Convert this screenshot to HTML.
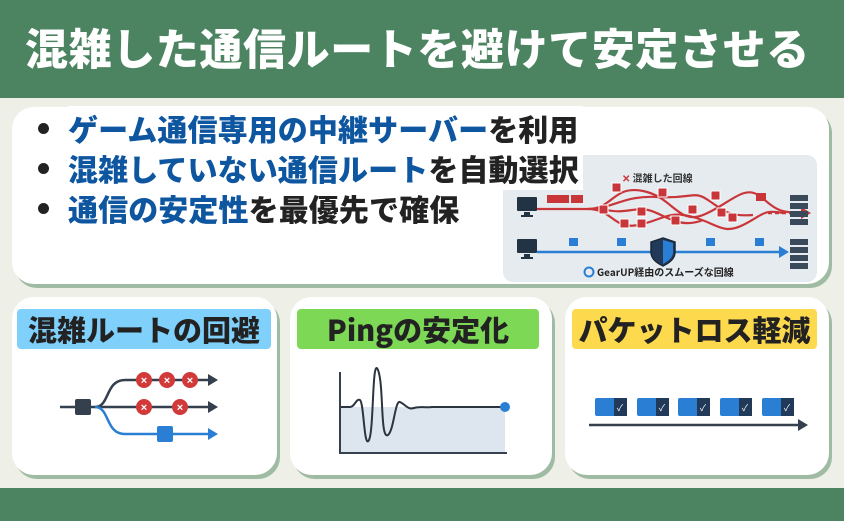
<!DOCTYPE html>
<html><head><meta charset="utf-8"><style>
*{margin:0;padding:0;box-sizing:border-box}
body{width:844px;height:521px;background:#eef0e8;position:relative;overflow:hidden;font-family:"Liberation Sans","Noto Sans CJK JP",sans-serif}
.hdr{position:absolute;left:0;top:0;width:844px;height:98px;background:#4c8461;color:#fff;font-weight:900;font-size:43px;line-height:94px;padding-left:25px;letter-spacing:0.6px;font-family:"Noto Sans CJK JP",sans-serif;white-space:nowrap}
.ftr{position:absolute;left:0;top:488px;width:844px;height:33px;background:#4c8461}
.card{position:absolute;background:#fff;border-radius:22px;box-shadow:3px 4px 0 #9fbba4}
.bl{position:absolute;left:38px;font-size:30px;font-weight:900;font-family:"Noto Sans CJK JP",sans-serif;color:#222;white-space:nowrap;letter-spacing:0.1px}
.bl b{color:#0e56a0;font-weight:900}
.bl i{position:absolute;left:0;top:17px;width:11px;height:11px;border-radius:50%;background:#222}
.bl span{margin-left:30px;background:#fff;padding-right:4px}
.tag{position:absolute;height:40px;line-height:40px;font-size:29px;font-weight:900;font-family:"Noto Sans CJK JP",sans-serif;color:#222;text-align:center;border-radius:4px;white-space:nowrap;letter-spacing:0px}
</style></head><body>
<div class="hdr">混雑した通信ルートを避けて安定させる</div>
<div class="card" style="left:12px;top:107px;width:817px;height:177px"></div>
<svg style="position:absolute;left:503px;top:155px" width="314" height="127">
<rect x="0" y="0" width="314" height="127" rx="10" fill="#e6ebf0"/>
<text x="119" y="27" font-size="10" font-weight="bold" fill="#333" font-family="Noto Sans CJK JP,sans-serif"><tspan fill="#c9363a">✕</tspan> 混雑した回線</text>
<g fill="none" stroke="#c9363a" stroke-width="2.2">
<path d="M30 54 H85 C110 54 110 30 140 36 S175 70 200 60 S240 30 255 40 S270 58 300 58"/>
<path d="M85 54 C110 54 110 75 135 70 S165 55 190 62 S220 80 240 70 S260 54 280 58"/>
<path d="M85 54 C110 54 120 40 155 42 S190 35 205 45 S225 62 250 60"/>
<path d="M100 54 C120 60 130 52 145 55 S175 75 200 65"/>
</g>
<path d="M265 58 H300" stroke="#c9363a" stroke-width="2.5" stroke-dasharray="4 3"/>
<polygon points="298,52 308,58 298,64" fill="#c9363a"/>
<g fill="#c9363a"><rect x="44" y="40" width="14" height="8"/><rect x="68" y="40" width="12" height="8"/><rect x="57" y="40" width="9" height="8"/><rect x="253" y="38" width="10" height="8"/></g>
<g fill="#c9363a" stroke="#fff" stroke-width="1">
<rect x="109" y="28" width="9" height="9"/><rect x="155" y="33" width="9" height="9"/><rect x="208" y="36" width="9" height="9"/>
<rect x="96" y="50" width="9" height="9"/><rect x="134" y="52" width="9" height="9"/><rect x="185" y="50" width="9" height="9"/><rect x="214" y="53" width="9" height="9"/>
<rect x="117" y="64" width="9" height="9"/><rect x="134" y="64" width="9" height="9"/><rect x="168" y="61" width="9" height="9"/><rect x="225" y="58" width="9" height="9"/>
</g>
<g fill="#223344"><rect x="14" y="42" width="20" height="14" rx="1"/><rect x="21" y="57" width="6" height="3"/><rect x="18" y="60" width="12" height="2"/>
<rect x="14" y="84" width="20" height="14" rx="1"/><rect x="21" y="99" width="6" height="3"/><rect x="18" y="102" width="12" height="2"/></g>
<g fill="#3a4a5a"><rect x="287" y="40" width="18" height="6"/><rect x="287" y="48" width="18" height="6"/><rect x="287" y="56" width="18" height="6"/><rect x="287" y="64" width="18" height="6"/>
<rect x="287" y="84" width="18" height="6"/><rect x="287" y="92" width="18" height="6"/><rect x="287" y="100" width="18" height="6"/><rect x="287" y="108" width="18" height="6"/></g>
<path d="M34 97 H278" stroke="#2a7fd4" stroke-width="2.5"/>
<polygon points="276,91 286,97 276,103" fill="#2a7fd4"/>
<g fill="#2a7fd4"><rect x="66" y="83" width="9" height="8"/><rect x="114" y="83" width="9" height="8"/><rect x="203" y="83" width="9" height="8"/><rect x="252" y="83" width="9" height="8"/></g>
<path d="M160 83 L172 87 V97 C172 104 166 108 160 111 C154 108 148 104 148 97 V87 Z" fill="#223a5a" stroke="#1a2838" stroke-width="1.5"/>
<path d="M160 85 L170 88 V97 C170 103 165 106 160 109 Z" fill="#2a7fd4"/>
<circle cx="86" cy="117" r="4.5" fill="none" stroke="#2a7fd4" stroke-width="2"/>
<text x="94" y="121" font-size="10" font-weight="bold" fill="#222" font-family="Noto Sans CJK JP,sans-serif">GearUP経由のスムーズな回線</text>
</svg>
<div class="bl" style="top:106px"><i></i><span><b>ゲーム通信専用の中継サーバー</b>を利用</span></div>
<div class="bl" style="top:146px"><i></i><span><b>混雑していない通信ルート</b>を自動選択</span></div>
<div class="bl" style="top:186px"><i></i><span style="background:transparent"><b>通信の安定性</b>を最優先で確保</span></div>

<div class="card" style="left:12px;top:297px;width:265px;height:178px"></div>
<div class="card" style="left:290px;top:297px;width:262px;height:178px"></div>
<div class="card" style="left:565px;top:297px;width:264px;height:178px"></div>
<div class="tag" style="left:17px;top:309px;width:254px;background:#7fd0fb">混雑ルートの回避</div>
<div class="tag" style="left:297px;top:309px;width:242px;background:#7dd855">Pingの安定化</div>
<div class="tag" style="left:572px;top:309px;width:245px;background:#fdd94e">パケットロス軽減</div>

<svg style="position:absolute;left:0;top:360px" width="844" height="100">
<g fill="none" stroke-width="2.5">
<path d="M60 47 H210" stroke="#34404e"/>
<path d="M95 47 C110 47 105 20 125 20 H210" stroke="#34404e"/>
<path d="M95 47 C110 47 105 74 125 74 H210" stroke="#2a7fd4"/>
</g>
<polygon points="208,14 218,20 208,26" fill="#34404e"/><polygon points="208,41 218,47 208,53" fill="#34404e"/><polygon points="208,68 218,74 208,80" fill="#2a7fd4"/>
<rect x="75" y="39" width="16" height="16" rx="2" fill="#34404e"/>
<rect x="157" y="66" width="16" height="16" rx="2" fill="#2a7fd4"/>
<g fill="#d23a3a">
<circle cx="144" cy="20" r="8"/><circle cx="167" cy="20" r="8"/><circle cx="190" cy="20" r="8"/>
<circle cx="144" cy="47" r="8"/><circle cx="180" cy="47" r="8"/></g>
<g fill="#fff" font-size="11" font-weight="bold" text-anchor="middle" font-family="Liberation Sans,sans-serif">
<text x="144" y="24">×</text><text x="167" y="24">×</text><text x="190" y="24">×</text><text x="144" y="51">×</text><text x="180" y="51">×</text></g>
<rect x="340" y="47" width="165" height="46" fill="#dde6ef"/>
<path d="M340 47 H350 C355 47 356 38 360 40 C364 43 364 90 369 80 C374 70 372 -5 378 10 C384 25 380 80 388 75 C394 70 395 40 400 42 C406 45 408 50 414 48 C420 46 424 48 432 47 H505" fill="none" stroke="#2b3540" stroke-width="2"/>
<path d="M340 12 V93 H507" fill="none" stroke="#34404e" stroke-width="2"/>
<circle cx="505" cy="47" r="5" fill="#2a7fd4"/>
<g>
<rect x="595" y="38" width="32" height="18" rx="2" fill="#2a7fd4"/><rect x="614" y="38" width="13" height="18" fill="#223a5a"/>
<rect x="637" y="38" width="32" height="18" rx="2" fill="#2a7fd4"/><rect x="656" y="38" width="13" height="18" fill="#223a5a"/>
<rect x="678" y="38" width="32" height="18" rx="2" fill="#2a7fd4"/><rect x="697" y="38" width="13" height="18" fill="#223a5a"/>
<rect x="720" y="38" width="32" height="18" rx="2" fill="#2a7fd4"/><rect x="739" y="38" width="13" height="18" fill="#223a5a"/>
<rect x="762" y="38" width="32" height="18" rx="2" fill="#2a7fd4"/><rect x="781" y="38" width="13" height="18" fill="#223a5a"/>
</g>
<g fill="#fff" font-size="9" text-anchor="middle"><text x="620" y="51">✓</text><text x="662" y="51">✓</text><text x="703" y="51">✓</text><text x="745" y="51">✓</text><text x="787" y="51">✓</text></g>
<path d="M589 65 H800" stroke="#34404e" stroke-width="2.5"/>
<polygon points="798,59 808,65 798,71" fill="#34404e"/>
</svg>
<div class="ftr"></div>
</body></html>
